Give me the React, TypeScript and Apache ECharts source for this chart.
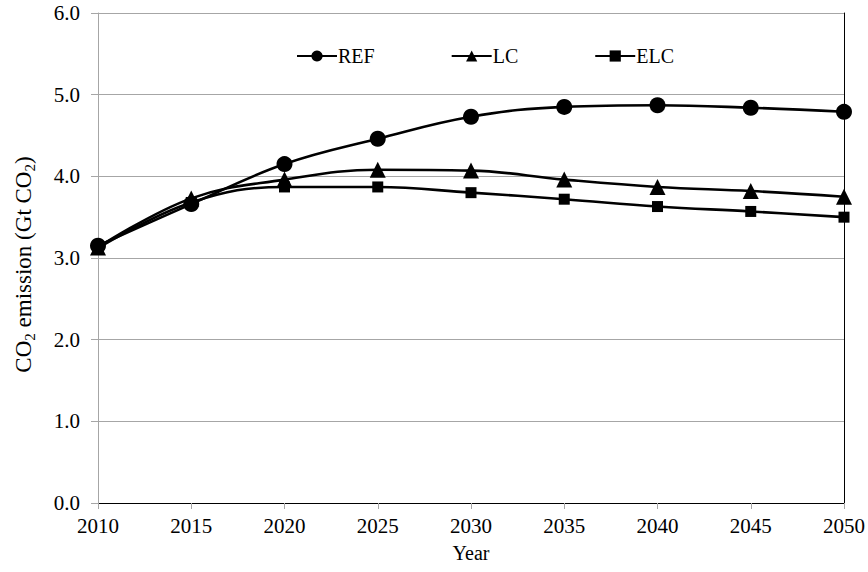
import React, { useEffect, useRef } from "react";
import * as echarts from "echarts";

const years = ["2010", "2015", "2020", "2025", "2030", "2035", "2040", "2045", "2050"];
const refValues = [3.15, 3.66, 4.15, 4.46, 4.73, 4.85, 4.87, 4.84, 4.79];
const lcValues = [3.13, 3.73, 3.96, 4.08, 4.07, 3.96, 3.87, 3.82, 3.75];
const elcValues = [3.12, 3.68, 3.87, 3.87, 3.8, 3.72, 3.63, 3.57, 3.5];
const seriesNames = ["REF", "LC", "ELC"];
const xTitle = "Year";
const yTitleRich = "{n|CO}{s|2}{n| emission (Gt CO}{s|2}{n|)}";

const FONT = "'Liberation Serif', 'Times New Roman', serif";
const GRAY = "#a6a6a6";

export default function App() {
  const ref = useRef<HTMLDivElement>(null);
  useEffect(() => {
    if (!ref.current) return;
    const chart = echarts.init(ref.current, null, { renderer: "svg" });
    const lineStyle = { color: "#000", width: 2.6 };
    const mk = (name: string, data: number[], symbol: string, size: number) => ({
      name,
      type: "line",
      data,
      smooth: 0.4,
      symbol,
      symbolSize: size,
      showAllSymbol: true,
      itemStyle: { color: "#000" },
      lineStyle,
      xAxisIndex: 0,
      yAxisIndex: 0,
      z: 3,
    });
    chart.setOption({
      animation: false,
      backgroundColor: "#fff",
      textStyle: { fontFamily: FONT },
      grid: { left: 98, right: 23, top: 13, bottom: 69, containLabel: false },
      legend: {
        left: 291,
        top: 41,
        itemWidth: 40,
        itemHeight: 14,
        itemGap: 76,
        data: seriesNames,
        textStyle: { fontFamily: FONT, fontSize: 20, color: "#000", padding: [0, 0, 0, -4] },
      },
      xAxis: [
        {
          type: "category",
          data: years,
          boundaryGap: false,
          axisLine: { lineStyle: { color: GRAY, width: 1 } },
          axisTick: { show: true, length: 6, lineStyle: { color: GRAY } },
          axisLabel: { fontFamily: FONT, fontSize: 21, color: "#000", margin: 12 },
          splitLine: { show: false },
          name: xTitle,
          nameLocation: "middle",
          nameGap: 40,
          nameTextStyle: { fontFamily: FONT, fontSize: 20, color: "#000" },
        },
        {
          type: "category",
          data: years,
          boundaryGap: false,
          position: "top",
          axisLine: { lineStyle: { color: "#000", width: 1 } },
          axisTick: { show: false },
          axisLabel: { show: false },
          splitLine: { show: false },
        },
      ],
      yAxis: [
        {
          type: "value",
          min: 0,
          max: 6,
          interval: 1,
          axisLine: { show: true, lineStyle: { color: GRAY, width: 1 } },
          axisTick: { show: true, length: 7, lineStyle: { color: GRAY } },
          axisLabel: {
            fontFamily: FONT,
            fontSize: 21,
            color: "#000",
            margin: 18,
            formatter: (v: number) => v.toFixed(1),
          },
          splitLine: { show: true, lineStyle: { color: GRAY, width: 1 } },
          name: yTitleRich,
          nameLocation: "middle",
          nameGap: 61,
          nameTextStyle: {
            fontFamily: FONT,
            fontSize: 23,
            color: "#000",
            padding: [0, 13, 0, 0],
            rich: {
              n: { fontFamily: FONT, fontSize: 23, color: "#000", lineHeight: 28 },
              s: { fontFamily: FONT, fontSize: 15, color: "#000", lineHeight: 15, verticalAlign: "bottom" },
            },
          },
        },
        {
          type: "value",
          min: 0,
          max: 6,
          interval: 1,
          position: "right",
          axisLine: { show: true, lineStyle: { color: "#000", width: 1 } },
          axisTick: { show: false },
          axisLabel: { show: false },
          splitLine: { show: false },
        },
      ],
      series: [
        mk(seriesNames[0], refValues, "circle", 16),
        mk(seriesNames[1], lcValues, "triangle", 16),
        mk(seriesNames[2], elcValues, "rect", 11),
      ],
    });
    return () => chart.dispose();
  }, []);
  return (
    <div
      ref={ref}
      style={{ position: "fixed", left: 0, top: 0, width: 868, height: 572, background: "#fff" }}
    />
  );
}
